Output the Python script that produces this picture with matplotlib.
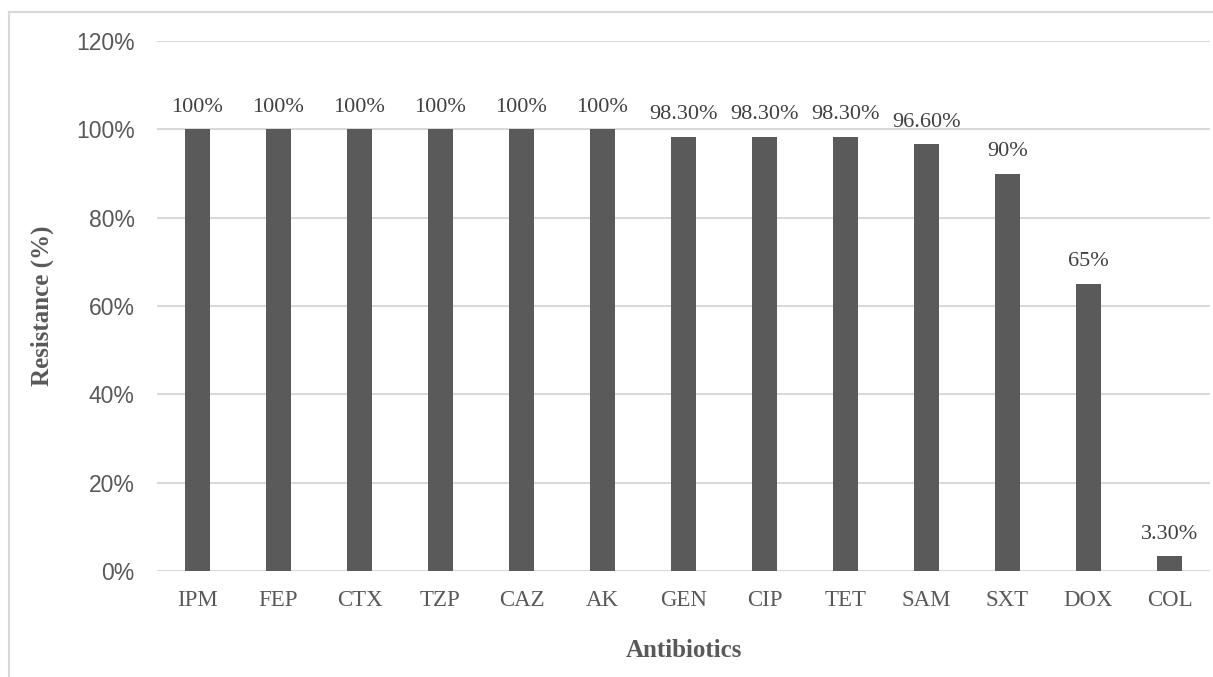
import numpy as np
import matplotlib.pyplot as plt
from matplotlib.lines import Line2D

# resistance of isolates per antibiotic
antibiotics = ['IPM', 'FEP', 'CTX', 'TZP', 'CAZ', 'AK', 'GEN', 'CIP', 'TET', 'SAM', 'SXT', 'DOX', 'COL']
resistance = [100, 100, 100, 100, 100, 100, 98.3, 98.3, 98.3, 96.6, 90, 65, 3.3]
value_labels = ['100%', '100%', '100%', '100%', '100%', '100%', '98.30%', '98.30%', '98.30%',
                '96.60%', '90%', '65%', '3.30%']
y_ticks = [0, 20, 40, 60, 80, 100, 120]

serif = 'Liberation Serif'
sans = 'Liberation Sans'

fig = plt.figure(figsize=(12.13, 6.77), dpi=100)
ax = fig.add_axes([157/1213, 1 - 571/677, 1053/1213, 530/677])

x = np.arange(len(antibiotics))
ax.bar(x, resistance, width=0.31, color='#5a5a5a', zorder=3)

for xi, v, lab in zip(x, resistance, value_labels):
    ax.annotate(lab, (xi, v), xytext=(0, 9), textcoords='offset points',
                ha='center', va='bottom', fontsize=16, family=serif, color='#404040')

ax.set_xlim(-0.5, len(antibiotics) - 0.5)
ax.set_ylim(0, 120)
ax.set_yticks(y_ticks)
ax.set_yticklabels([f'{t}%' for t in y_ticks], fontsize=16.5, family=sans, color='#595959')
ax.set_xticks(x)
ax.set_xticklabels(antibiotics, fontsize=16.5, family=serif, color='#595959')
ax.tick_params(length=0, pad=14)
ax.tick_params(axis='y', pad=16)

ax.grid(axis='y', color='#d9d9d9', linewidth=1.5, zorder=0)
for s in ax.spines.values():
    s.set_visible(False)

ax.set_xlabel('Antibiotics', fontsize=18, family=serif, fontweight='bold', color='#595959', labelpad=20)
ax.set_ylabel('Resistance (%)', fontsize=18, family=serif, fontweight='bold', color='#595959', labelpad=16)

# chart frame, left and top edges
fig.add_artist(Line2D([9/1213, 9/1213], [0, 1 - 12/677], transform=fig.transFigure, color='#d9d9d9', lw=1.5))
fig.add_artist(Line2D([9/1213, 1], [1 - 12/677, 1 - 12/677], transform=fig.transFigure, color='#d9d9d9', lw=1.5))

fig.savefig('out.png', dpi=100, facecolor='white')
